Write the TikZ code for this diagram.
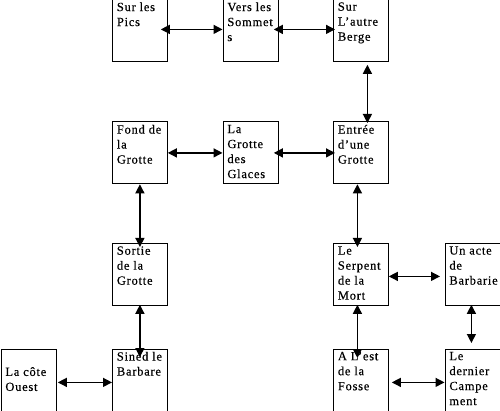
\documentclass[tikz,border=0pt]{standalone}
\usepackage{fontspec}
\setmainfont[LetterSpace=6,FakeBold=0.4]{Liberation Serif}
\usetikzlibrary{
		arrows.meta,
		positioning
	}
\tikzset{
		>={Triangle[length=9pt,width=9pt]},
		salle/.style={draw, anchor=north west, inner xsep=4.5pt, inner ysep=3pt,
			font=\fontsize{12.5}{15}\selectfont},
		lien/.style={<->, line width=1.3pt}
	}
\newcommand{\salletxt}[1]{\parbox[c][56pt][t]{46pt}{\raggedright #1}}

\begin{document}
\begin{tikzpicture}[x=1pt, y=-1pt, thick]
          \useasboundingbox (0,0) rectangle (500,411);

          \node[salle] (pics) at (112,-1) {\salletxt{Sur les\\Pics}};
          \node[salle] (sommets) at (222.5,-1) {\salletxt{Vers les\\Sommet\\s}};
          \node[salle] (berge) at (333,-1) {\salletxt{Sur\\L'autre\\Berge}};

          \node[salle] (fond) at (112,121.5) {\salletxt{Fond de\\la\\Grotte}};
          \node[salle] (glaces) at (222.5,121.5) {\salletxt{La\\Grotte\\des\\Glaces}};
          \node[salle] (entree) at (333,121.5) {\salletxt{Entrée\\d'une\\Grotte}};

          \node[salle] (sortie) at (112,243) {\salletxt{Sortie\\de la\\Grotte}};
          \node[salle] (serpent) at (333,243) {\salletxt{Le\\Serpent\\de la\\Mort}};
          \node[salle] (acte) at (444.5,243) {\salletxt{Un acte\\de\\Barbarie}};

          \node[salle] (cote) at (0.5,348.5) {\salletxt{\rule{0pt}{9pt}\\La côte\\Ouest}};
          \node[salle] (sined) at (112,348.5) {\salletxt{Sined le\\Barbare}};
          \node[salle] (fosse) at (333,348.5) {\salletxt{A L'est\\de la\\Fosse}};
          \node[salle] (dernier) at (444.5,348.5) {\salletxt{Le\\dernier\\Campe\\ment}};

          \draw[lien, shorten <=-7pt] ([yshift=1pt]pics.east) -- ([yshift=1pt]sommets.west);
          \draw[lien, shorten <=-4.5pt, shorten >=-2pt] ([yshift=1pt]sommets.east) -- ([yshift=1pt]berge.west);
          \draw[lien] (fond) -- (glaces);
          \draw[lien, shorten <=-4.5pt, shorten >=-2pt] (glaces) -- (entree);
          \draw[lien, shorten >=4.5pt] ([yshift=-2pt]serpent.east) -- ([yshift=-2pt]acte.west);
          \draw[lien, shorten <=1.5pt] ([yshift=-2.5pt]cote.east) -- ([yshift=-2.5pt]sined.west);
          \draw[lien, shorten <=3pt] ([yshift=-2.5pt]fosse.east) -- ([yshift=-2.5pt]dernier.west);

          \draw[lien, shorten <=3pt, shorten >=-1.5pt] ([xshift=6.5pt]berge.south) -- ([xshift=6.5pt]entree.north);
          \draw[lien, shorten >=-4pt] (fond) -- (sortie);
          \draw[lien, shorten >=-4pt] ([xshift=-3.5pt]entree.south) -- ([xshift=-3.5pt]serpent.north);
          \draw[lien, shorten <=-1pt, shorten >=-8.5pt] (sortie) -- (sined);
          \draw[lien, shorten <=-1pt, shorten >=-9.5pt] ([xshift=-3.5pt]serpent.south) -- ([xshift=-3.5pt]fosse.north);
          \draw[lien, shorten <=-1pt, shorten >=5.5pt] ([xshift=-1pt]acte.south) -- ([xshift=-1pt]dernier.north);

          \end{tikzpicture}
\end{document}
